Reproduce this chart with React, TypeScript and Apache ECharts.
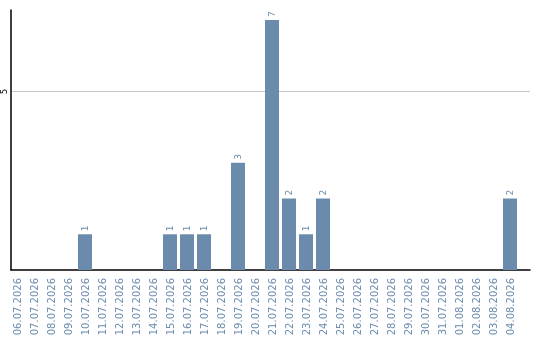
import React, { useEffect, useRef } from "react";
import * as echarts from "echarts";

const days: string[] = [
  "06.07.2026", "07.07.2026", "08.07.2026", "09.07.2026", "10.07.2026",
  "11.07.2026", "12.07.2026", "13.07.2026", "14.07.2026", "15.07.2026",
  "16.07.2026", "17.07.2026", "18.07.2026", "19.07.2026", "20.07.2026",
  "21.07.2026", "22.07.2026", "23.07.2026", "24.07.2026", "25.07.2026",
  "26.07.2026", "27.07.2026", "28.07.2026", "29.07.2026", "30.07.2026",
  "31.07.2026", "01.08.2026", "02.08.2026", "03.08.2026", "04.08.2026",
];

const counts: (number | null)[] = [
  null, null, null, null, 1,
  null, null, null, null, 1,
  1, 1, null, 3, null,
  7, 2, 1, 2, null,
  null, null, null, null, null,
  null, null, null, null, 2,
];

const yTickStep = 5;

const BAR = "#6a8bab";
const TEXT = "#6b8cae";

export default function App() {
  const ref = useRef<HTMLDivElement>(null);

  useEffect(() => {
    if (!ref.current) return;
    const chart = echarts.init(ref.current, null, { renderer: "svg" });
    const dataMax = Math.max(...counts.map((v) => v ?? 0));
    chart.setOption({
      animation: false,
      grid: [
        // plotting area for the bars
        { left: 8.5, right: 21.5, top: 20, bottom: 70 },
        // frame: axis lines and the gridline
        { left: 11, right: 10, top: 10, bottom: 70 },
      ],
      xAxis: [
        {
          type: "category",
          gridIndex: 0,
          data: days,
          axisLine: { show: false },
          axisTick: { show: false },
          axisLabel: {
            interval: 0,
            rotate: 90,
            margin: 8,
            color: TEXT,
            fontSize: 10,
            fontFamily: "DejaVu Sans",
          },
        },
        {
          type: "value",
          gridIndex: 1,
          min: 0,
          max: 1,
          axisLine: { show: true, lineStyle: { color: "#000", width: 1.5 } },
          axisTick: { show: false },
          axisLabel: { show: false },
          splitLine: { show: false },
        },
      ],
      yAxis: [
        {
          type: "value",
          gridIndex: 0,
          min: 0,
          max: dataMax,
          show: false,
        },
        {
          type: "value",
          gridIndex: 1,
          min: 0,
          max: (dataMax * 260) / 250,
          interval: yTickStep,
          axisLine: { show: true, lineStyle: { color: "#000", width: 1.5 } },
          axisTick: { show: false },
          axisLabel: {
            rotate: 90,
            margin: 3,
            fontSize: 8,
            color: "#000",
            fontFamily: "DejaVu Sans",
            showMinLabel: false,
            showMaxLabel: false,
            formatter: (v: number) => (v % yTickStep === 0 ? String(v) : ""),
          },
          splitLine: {
            show: true,
            lineStyle: {
              color: ["rgba(0,0,0,0)", "#c8c8c8", "rgba(0,0,0,0)"],
              width: 1,
            },
          },
        },
      ],
      series: [
        {
          type: "bar",
          xAxisIndex: 0,
          yAxisIndex: 0,
          data: counts,
          barWidth: 14,
          itemStyle: { color: BAR },
          label: {
            show: true,
            position: "top",
            rotate: 90,
            align: "left",
            verticalAlign: "middle",
            distance: 3,
            fontSize: 9,
            color: TEXT,
            fontFamily: "DejaVu Sans",
          },
        },
      ],
    });
    return () => chart.dispose();
  }, []);

  return (
    <div
      ref={ref}
      style={{ position: "fixed", left: 0, top: 0, width: 540, height: 340 }}
    />
  );
}
